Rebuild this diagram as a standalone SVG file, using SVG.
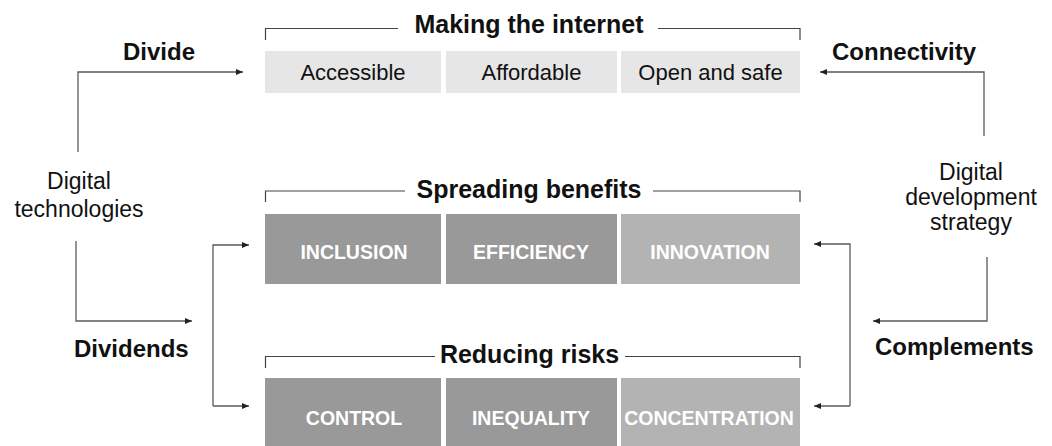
<svg xmlns="http://www.w3.org/2000/svg" width="1052" height="446" viewBox="0 0 1052 446">
<style>
.t{font-family:"Liberation Sans",Arial,sans-serif;fill:#111}
.reg{font-size:22px}
.side{font-size:23px}
.bl{font-size:24px;font-weight:bold}
.ttl{font-size:25px;font-weight:bold}
.box-l{fill:#e6e6e6}
.box-d{fill:#999999}
.box-m{fill:#b3b3b3}
.wl{font-family:"Liberation Sans",Arial,sans-serif;font-size:19.5px;font-weight:bold;fill:#ffffff}
.br{fill:none;stroke:#444;stroke-width:1.2}
.con{fill:none;stroke:#5a5a5a;stroke-width:1.3}
</style>
<defs>
<marker id="ah" markerUnits="userSpaceOnUse" markerWidth="8" markerHeight="6" refX="7" refY="3" orient="auto">
<path d="M0,0 L7,3 L0,6 z" fill="#222"/>
</marker>
</defs>

<g id="connectors">
<path class="con" d="M78,152 V72 H243" marker-end="url(#ah)"/>
<path class="con" d="M984,136 V72 H820" marker-end="url(#ah)"/>
<path class="con" d="M76,241 V321 H192" marker-end="url(#ah)"/>
<path class="con" d="M987,257 V321 H873" marker-end="url(#ah)"/>
<path class="con" d="M213,406 V245 H249" marker-end="url(#ah)"/>
<path class="con" d="M213,406 H249" marker-end="url(#ah)"/>
<path class="con" d="M850,406 V244 H814" marker-end="url(#ah)"/>
<path class="con" d="M850,406 H814" marker-end="url(#ah)"/>
</g>

<g id="label-divide"><text class="t bl" x="123" y="60">Divide</text></g>
<g id="label-connectivity"><text class="t bl" x="832" y="60">Connectivity</text></g>
<g id="label-dividends"><text class="t bl" x="74" y="357">Dividends</text></g>
<g id="label-complements"><text class="t bl" x="875" y="355">Complements</text></g>

<g id="digital-technologies">
<text class="t side" text-anchor="middle" x="79" y="189">Digital</text>
<text class="t side" text-anchor="middle" x="79" y="217">technologies</text>
</g>
<g id="digital-development-strategy">
<text class="t side" text-anchor="middle" x="971" y="180">Digital</text>
<text class="t side" text-anchor="middle" x="971" y="205">development</text>
<text class="t side" text-anchor="middle" x="971" y="230">strategy</text>
</g>

<g id="making-the-internet">
<path class="br" d="M265.5,40 V28.5 H398 M658,28.5 H800 V40"/>
<text class="t ttl" text-anchor="middle" x="529" y="33">Making the internet</text>
<rect class="box-l" x="265" y="51" width="176" height="42"/>
<rect class="box-l" x="446" y="51" width="171" height="42"/>
<rect class="box-l" x="621" y="51" width="179" height="42"/>
<text class="t reg" text-anchor="middle" x="353" y="80">Accessible</text>
<text class="t reg" text-anchor="middle" x="531.5" y="80">Affordable</text>
<text class="t reg" text-anchor="middle" x="710.5" y="80">Open and safe</text>
</g>

<g id="spreading-benefits">
<path class="br" d="M265.5,202 V191 H405 M653,191 H800 V202"/>
<text class="t ttl" text-anchor="middle" x="529" y="198">Spreading benefits</text>
<rect class="box-d" x="265" y="214" width="176" height="70"/>
<rect class="box-d" x="446" y="214" width="171" height="70"/>
<rect class="box-m" x="621" y="214" width="179" height="70"/>
<text class="wl" text-anchor="middle" x="354" y="259">INCLUSION</text>
<text class="wl" text-anchor="middle" x="531" y="259">EFFICIENCY</text>
<text class="wl" text-anchor="middle" x="710" y="259">INNOVATION</text>
</g>

<g id="reducing-risks">
<path class="br" d="M265.5,368 V356.5 H435 M625,356.5 H800 V368"/>
<text class="t ttl" text-anchor="middle" x="529.5" y="363">Reducing risks</text>
<rect class="box-d" x="265" y="378" width="176" height="68"/>
<rect class="box-d" x="446" y="378" width="171" height="68"/>
<rect class="box-m" x="621" y="378" width="179" height="68"/>
<text class="wl" text-anchor="middle" x="354" y="425">CONTROL</text>
<text class="wl" text-anchor="middle" x="531" y="425">INEQUALITY</text>
<text class="wl" text-anchor="middle" x="709" y="425">CONCENTRATION</text>
</g>
</svg>
